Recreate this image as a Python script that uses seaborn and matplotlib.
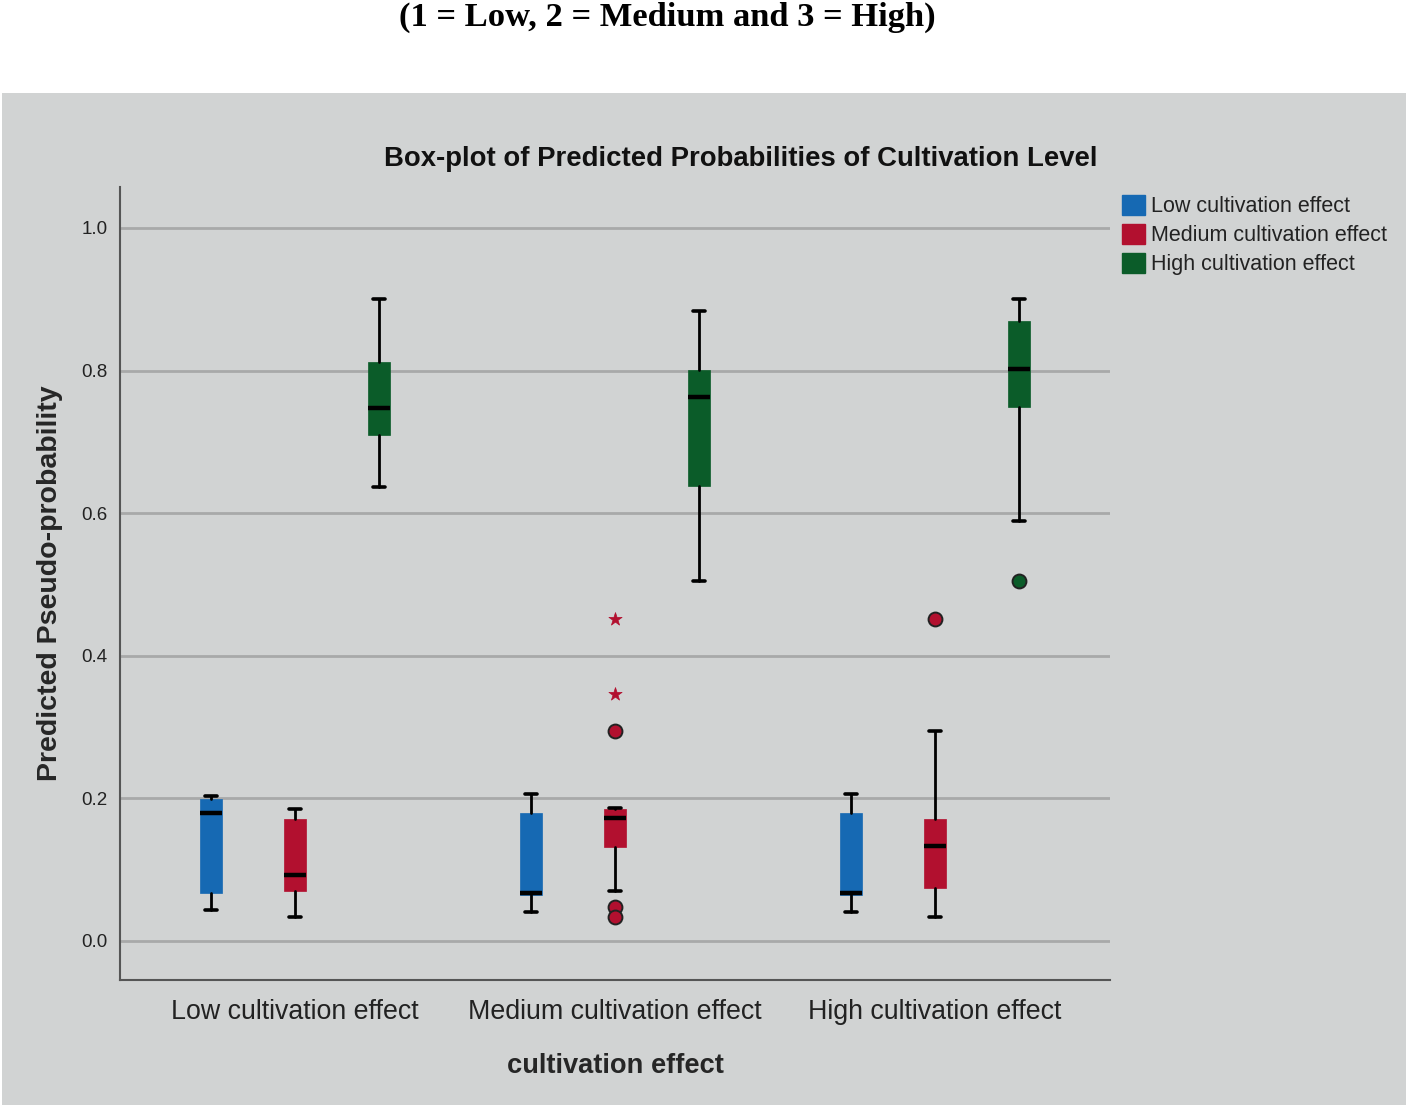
import matplotlib
matplotlib.use("Agg")
import matplotlib.pyplot as plt
import matplotlib.patches as mpatches
import numpy as np
import pandas as pd
import seaborn as sns

# categories (x groups) and hue levels
groups = ["Low cultivation effect", "Medium cultivation effect", "High cultivation effect"]
levels = ["Low cultivation effect", "Medium cultivation effect", "High cultivation effect"]

# box statistics, rows = x group, columns = hue level (low, medium, high)
whis_lo = [[0.044, 0.034, 0.637], [0.040, 0.070, 0.505], [0.040, 0.033, 0.589]]
q1_vals = [[0.068, 0.070, 0.709], [0.065, 0.132, 0.638], [0.065, 0.075, 0.749]]
medians = [[0.179, 0.092, 0.748], [0.067, 0.172, 0.763], [0.067, 0.133, 0.802]]
q3_vals = [[0.199, 0.171, 0.812], [0.179, 0.185, 0.801], [0.179, 0.171, 0.870]]
whis_hi = [[0.204, 0.185, 0.900], [0.206, 0.186, 0.884], [0.206, 0.294, 0.900]]

# outliers (circles) and extremes (stars): (group, level, value)
outlier_group = [1, 1, 1, 2, 2]
outlier_level = [1, 1, 1, 1, 2]
outlier_value = [0.294, 0.048, 0.033, 0.451, 0.505]
extreme_group = [1, 1]
extreme_level = [1, 1]
extreme_value = [0.451, 0.347]

yticks = [0.0, 0.2, 0.4, 0.6, 0.8, 1.0]

colors = ["#1669b3", "#b2102f", "#0b5c29"]
panel = "#d1d3d3"

sns.set_theme(style="white")
plt.rcParams["font.family"] = ["Liberation Sans", "DejaVu Sans"]

fig = plt.figure(figsize=(14.08, 11.08), dpi=100)
fig.patches.append(mpatches.Rectangle((2 / 1408, 3 / 1108), 1404 / 1408, 1012 / 1108,
                                      transform=fig.transFigure, facecolor=panel,
                                      edgecolor="none", zorder=-10))
ax = fig.add_axes([120 / 1408, 1 - 980 / 1108, 990 / 1408, 793 / 1108])
ax.set_facecolor(panel)

offset = 0.2625
box_w = 0.066
stats = []
positions = []
for gi in range(len(groups)):
    for li in range(len(levels)):
        fl = [v for g, l, v in zip(outlier_group, outlier_level, outlier_value) if g == gi and l == li]
        stats.append(dict(whislo=whis_lo[gi][li], q1=q1_vals[gi][li], med=medians[gi][li],
                          q3=q3_vals[gi][li], whishi=whis_hi[gi][li], fliers=fl))
        positions.append(gi + (li - 1) * offset)

bp = ax.bxp(stats, positions=positions, widths=box_w, patch_artist=True,
            showfliers=True, manage_ticks=False,
            medianprops=dict(color="black", linewidth=3.2, solid_capstyle="butt"),
            whiskerprops=dict(color="black", linewidth=2),
            capprops=dict(color="black", linewidth=2.6),
            capwidths=0.037,
            flierprops=dict(marker="o", markersize=10, markeredgecolor="#222222",
                            markeredgewidth=1.4, linestyle="none"))
for i, patch in enumerate(bp["boxes"]):
    patch.set_facecolor(colors[i % 3])
    patch.set_edgecolor(colors[i % 3])
    patch.set_linewidth(0.5)
for i, fl in enumerate(bp["fliers"]):
    fl.set_markerfacecolor(colors[i % 3])

stars = pd.DataFrame({
    "x": [g + (l - 1) * offset for g, l in zip(extreme_group, extreme_level)],
    "y": extreme_value,
})
sns.scatterplot(data=stars, x="x", y="y", marker="*", s=100, color=colors[1],
                edgecolor=colors[1], linewidth=0.5, ax=ax, zorder=5)

ax.set_xlim(-0.547, 2.547)
ax.set_ylim(-0.0547, 1.0575)
ax.set_yticks(yticks)
ax.set_yticklabels([f"{t:.1f}" for t in yticks], fontsize=13.5, color="#222222")
ax.set_xticks(range(len(groups)))
ax.set_xticklabels(groups, fontsize=19.3, color="#222222")
ax.tick_params(axis="both", length=0)
ax.tick_params(axis="y", pad=9)
ax.tick_params(axis="x", pad=14)
ax.yaxis.grid(True, color="#a8a9a9", linewidth=2)
ax.set_axisbelow(True)
for side in ["top", "right"]:
    ax.spines[side].set_visible(False)
for side in ["left", "bottom"]:
    ax.spines[side].set_color("#555555")
    ax.spines[side].set_linewidth(1.5)

ax.set_xlabel("cultivation effect", fontsize=19.6, fontweight="bold", labelpad=20)
ax.set_ylabel("Predicted Pseudo-probability", fontsize=20.5, fontweight="bold", labelpad=13)

fig.text(741 / 1408, 1 - 159 / 1108, "Box-plot of Predicted Probabilities of Cultivation Level",
         ha="center", va="center", fontsize=19.8, fontweight="bold", color="#111111")
fig.text(667 / 1408, 1 - 17 / 1108, "(1 = Low, 2 = Medium and 3 = High)",
         ha="center", va="center", fontsize=24.8, fontweight="bold",
         family=["Liberation Serif", "DejaVu Serif"], color="black")

handles = [mpatches.Patch(facecolor=c, edgecolor=c, label=l) for c, l in zip(colors, levels)]
fig.legend(handles=handles, loc="upper left", bbox_to_anchor=(1113 / 1408, 1 - 186 / 1108),
           frameon=False, fontsize=15.5, handlelength=1.1, handleheight=1.1,
           handletextpad=0.25, labelspacing=0.3, borderaxespad=0, labelcolor="#222222")

fig.savefig("out.png", dpi=100)
